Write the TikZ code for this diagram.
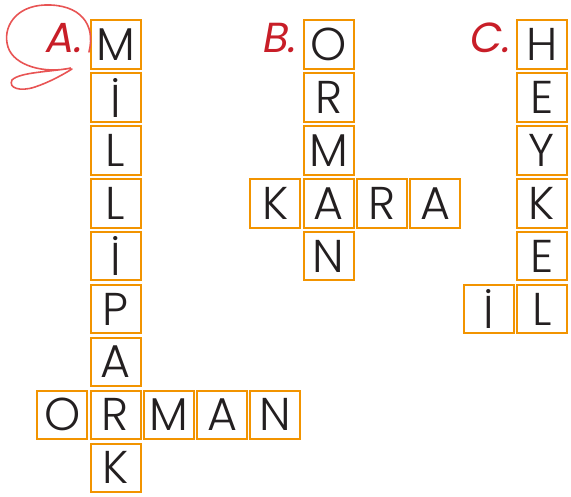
\documentclass[tikz,border=0pt]{standalone}
\usepackage{fontspec}
\newfontfamily\letterfont{Poppins}[UprightFont={* Light}]
\newfontfamily\labelfont{Poppins}
\definecolor{boxorange}{RGB}{242,148,0}
\definecolor{lettergray}{RGB}{35,31,32}
\definecolor{labelred}{RGB}{200,30,40}
\definecolor{circred}{RGB}{232,84,84}
\newcommand\cellat[4]{\node[cell] (#1) at ({62.2+53.3*#2},{44.6+52.9*#3}) {#4};}
\begin{document}
\begin{tikzpicture}[x=1pt,y=-1pt,
  cell/.style={draw=boxorange, line width=2pt, minimum width=50pt, minimum height=48.5pt, inner sep=0pt,
    font=\letterfont\fontsize{46}{46}\selectfont, text=lettergray},
  lbl/.style={anchor=base east, inner sep=0pt, text=labelred,
    font=\labelfont\itshape\fontsize{42}{42}\selectfont}]
\useasboundingbox (0,0) rectangle (571,497);
% A: MİLLİPARK / ORMAN
\cellat{a0}{1}{0}{M}
\cellat{a1}{1}{1}{İ}
\cellat{a2}{1}{2}{L}
\cellat{a3}{1}{3}{L}
\cellat{a4}{1}{4}{İ}
\cellat{a5}{1}{5}{P}
\cellat{a6}{1}{6}{A}
\cellat{a7}{1}{7}{R}
\cellat{a8}{1}{8}{K}
\cellat{ao}{0}{7}{O}
\cellat{am}{2}{7}{M}
\cellat{aa}{3}{7}{A}
\cellat{an}{4}{7}{N}
% B: ORMAN / KARA
\cellat{b0}{5}{0}{O}
\cellat{b1}{5}{1}{R}
\cellat{b2}{5}{2}{M}
\cellat{b3}{5}{3}{A}
\cellat{b4}{5}{4}{N}
\cellat{bk}{4}{3}{K}
\cellat{br}{6}{3}{R}
\cellat{ba}{7}{3}{A}
% C: HEYKEL / İL
\cellat{c0}{9}{0}{H}
\cellat{c1}{9}{1}{E}
\cellat{c2}{9}{2}{Y}
\cellat{c3}{9}{3}{K}
\cellat{c4}{9}{4}{E}
\cellat{c5}{9}{5}{L}
\cellat{ci}{8}{5}{İ}
% labels
\node[lbl] (la) at (84,53) {A.};
\node[lbl] (lb) at (298,53) {B.};
\node[lbl] (lc) at (512,53) {C.};
% red hand-drawn circle
\draw[circred, line width=1.6pt, line cap=round]
  (89,52) .. controls (96,24) and (80,4) .. (45,5)
  .. controls (15,6) and (2,28) .. (8,47)
  .. controls (14,66) and (45,74) .. (71,68)
  .. controls (50,72) and (20,72) .. (12,80)
  .. controls (8,88) and (20,92) .. (35,87)
  .. controls (50,82) and (64,74) .. (72,69);
\end{tikzpicture}
\end{document}
